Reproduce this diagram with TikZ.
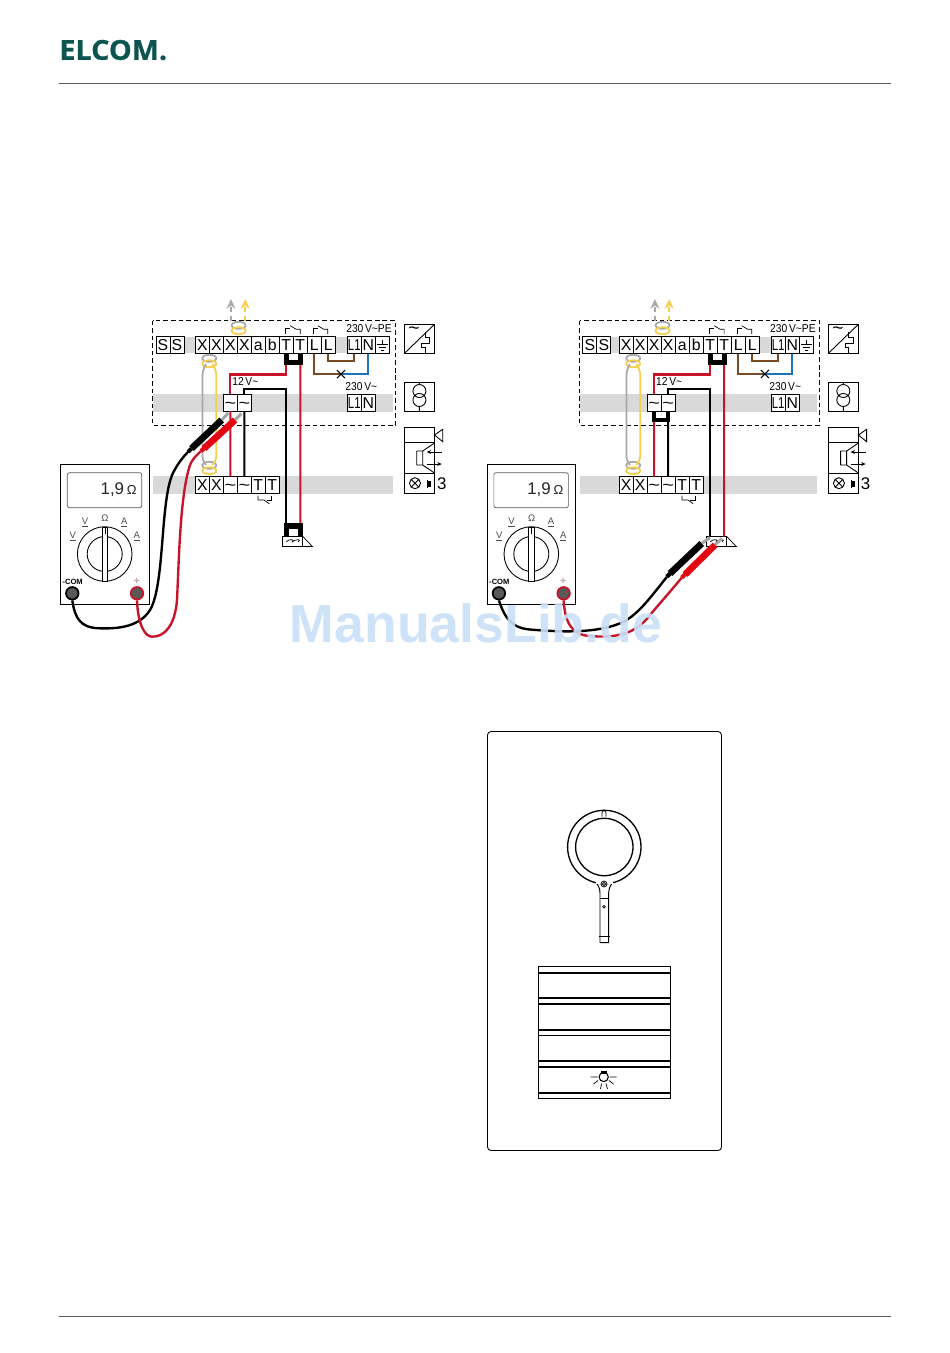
\documentclass[tikz,border=0pt]{standalone}
\usepackage{fontspec}
\usepackage{graphicx}
\setmainfont{Liberation Sans}
\newfontfamily\logofont[BoldFeatures={FakeBold=0.7}]{Open Sans}
\usetikzlibrary{positioning,arrows.meta}
\definecolor{bandgray}{HTML}{D9D9D9}
\definecolor{wirered}{HTML}{C8142A}
\definecolor{proberd}{HTML}{E30613}
\definecolor{wirebrn}{HTML}{7A4A22}
\definecolor{wireblu}{HTML}{1C75BC}
\definecolor{cablegr}{HTML}{A9A9A9}
\definecolor{cableye}{HTML}{F6D04D}
\definecolor{elcomgr}{HTML}{0B5450}
\definecolor{markblu}{HTML}{C9DFF8}
\tikzset{
  term/.style={draw,fill=white,line width=.5pt,inner sep=0pt,outer sep=0pt,minimum width=.28cm,minimum height=.34cm,text height=6.5pt,text depth=0pt,font=\fontsize{9}{9}\selectfont},
  hair/.style={line width=.4pt},
  wire/.style={line width=1.15pt},
  cable/.style={line width=1pt},
  jumper/.style={line width=3pt,line join=miter},
  socket/.style={circle,draw,line width=1pt,fill=black!65,inner sep=0pt,minimum size=.25cm},
  smalltext/.style={inner sep=0pt,font=\fontsize{6.5}{7}\selectfont},
  dialtext/.style={inner sep=0pt,text=black!70,font=\fontsize{5.4}{6}\selectfont},
  lead/.style={line width=1.35pt},
  thickline/.style={line width=.9pt},
  ringline/.style={line width=.75pt}
}
\newcommand{\acsign}{\scalebox{1.25}[1]{\textasciitilde}}
\newcommand{\lone}{\scalebox{.72}[1]{L1}}
% two rings of a twisted cable
\newcommand{\cabletwist}[2]{
\draw [cable,cablegr] (#1,#2-2.7) ellipse (7 and 3.5);
\draw [cable,cableye] (#1,#2+2.7) ellipse (7 and 3.5);
}
\newcommand{\contact}[2]{
\draw [hair] (#1,#2+5.7) -- (#1,#2) -- (#1+4.5,#2);
\draw [hair] (#1+4.5,#2-2.6) -- (#1+10.5,#2+1) -- (#1+14.5,#2+1) -- (#1+14.5,#2+5.7);
}
\newcommand{\probe}[5]{
\draw [line width=1.7pt,black!35] (#2) -- (#3);
\draw [line width=3.8pt,#4] (#1) -- (#2);
\draw [line width=2.4pt,#4] (#1) -- (#5);
}
% one wiring panel, #1 prefix of the names, #2 inset of the bands
\newcommand{\wiringpanel}[2]{
\fill [bandgray] (156+#2,337) rectangle (390,353);
\fill [bandgray] (153.3+#2,394) rectangle (393.3,411.7);
\fill [bandgray] (153.3+#2,476) rectangle (393.3,493.7);
\draw [black,line width=.5pt,dash pattern=on 2.6pt off 1.7pt] (152.7+#2,320.7) rectangle (395.7,425.3);
\node [term] (#1S1) at (163+#2,345) {S};
\node [term,right=0pt of #1S1] (#1S2) {S};
\node [term] (#1X1) at (202.3,345) {X};
\node [term,right=0pt of #1X1] (#1X2) {X};
\node [term,right=0pt of #1X2] (#1X3) {X};
\node [term,right=0pt of #1X3] (#1X4) {X};
\node [term,right=0pt of #1X4] (#1a) {a};
\node [term,right=0pt of #1a] (#1b) {b};
\node [term,right=0pt of #1b] (#1T1) {T};
\node [term,right=0pt of #1T1] (#1T2) {T};
\node [term,right=0pt of #1T2] (#1L1) {L};
\node [term,right=0pt of #1L1] (#1L2) {L};
\node [term] (#1P1) at (354.3,345) {\lone};
\node [term,right=0pt of #1P1] (#1N) {N};
\node [term,right=0pt of #1N] (#1PE) {};
\draw [hair] (#1PE.north) ++(0,3.3) -- ++(0,5) ++(-5.5,0) -- ++(11,0) ++(-9,2.7) -- ++(7,0) ++(-5,3) -- ++(3,0);
\node [term] (#1A1) at (230.3,402.5) {\acsign};
\node [term,right=0pt of #1A1] (#1A2) {\acsign};
\node [term] (#1M1) at (354.3,402.5) {\lone};
\node [term,right=0pt of #1M1] (#1M2) {N};
\node [term] (#1Y1) at (202.3,485) {X};
\node [term,right=0pt of #1Y1] (#1Y2) {X};
\node [term,right=0pt of #1Y2] (#1B1) {\acsign};
\node [term,right=0pt of #1B1] (#1B2) {\acsign};
\node [term,right=0pt of #1B2] (#1Z1) {T};
\node [term,right=0pt of #1Z1] (#1Z2) {T};
\node [smalltext] (#1volt) at (369,329) {\scalebox{.9}[1]{230\,V\textasciitilde PE}};
\node [smalltext] (#1twv) at (361.3,387) {\scalebox{.9}[1]{230\,V\textasciitilde}};
\node [smalltext] (#1lowv) at (245.3,382) {\scalebox{.9}[1]{12\,V\textasciitilde}};
\contact{285.7}{328.3}
\contact{313.3}{328.3}
\draw [hair] (258,495.7) -- (258,500) -- (264,500) -- (269.3,503.7);
\draw [hair] (266.5,500) -- (271.7,500) -- (271.7,495.7);
% cables
\cabletwist{238.6}{328}
\draw [cable,cablegr,densely dashed,-{Stealth[length=5.5pt,width=5pt]}] (231,321) -- (231,299);
\draw [cable,cableye,densely dashed,-{Stealth[length=5.5pt,width=5pt]}] (245.3,321) -- (245.3,299);
\cabletwist{209.3}{361}
\cabletwist{209.3}{468}
\draw [cable,cablegr,rounded corners=3pt] (206,364) -- (202.5,370) -- (202.5,461) -- (206,465);
\draw [cable,cableye,rounded corners=3pt] (212.5,364) -- (216.3,370) -- (216.3,461) -- (212.5,465);
% coil at the bottom
\node [draw,hair,fill=white,inner sep=0pt,minimum width=.4cm,minimum height=.19cm] (#1coil) at (292.3,541.4) {};
\draw [hair] (#1coil.center) ++(-6,0.5) .. controls ++(2,-3) and ++(3,-3) .. ++(6,0) .. controls ++(3,-3) and ++(4,-3) .. ++(6,0);
\draw [hair] (#1coil.north east) -- (312.3,546.4) -- (#1coil.south east);
\coordinate (#1coilA) at (286.3,536.7);
\coordinate (#1coilB) at (300.3,536.7);
% wires
\draw [wire,wirebrn] (#1L2.south) -- ++(0,7.3) -| (#1P1.south);
\coordinate (#1cross) at (341,374);
\draw [wire,wirebrn] (#1L1.south) |- (#1cross);
\draw [wire,wireblu] (#1cross) -| (#1N.south);
\draw [hair,line width=.6pt] (337,370) -- (345,378) (337,378) -- (345,370);
\draw [wire,wirered] (#1T1.south) -- ++(0,21) -| (#1A1.north);
\draw [wire,wirered] (#1T2.south) -- (#1coilB);
\draw [wire,black] (#1A2.north) -- ++(0,-4.7) -| (#1coilA);
\draw [wire,wirered] (#1A1.south) -- (#1B1.north);
\draw [wire,black] (#1A2.south) -- (#1B2.north);
\draw [jumper,black] (#1T1.south) -- ++(0,9.2) -| (#1T2.south);
% side symbols
\draw [black,line width=.5pt,fill=white] (404.5,324.3) rectangle (434.5,353.3);
\draw [black,line width=.5pt] (404.5,353.3) -- (434.5,324.3);
\node [inner sep=0pt,font=\fontsize{11}{11}\selectfont] (#1wave) at (414,331) {\textasciitilde};
\draw [black,line width=.5pt] (425,332) -- (425,337) -- (429.5,337) -- (429.5,343) -- (421.5,343) -- (421.5,347.5) -- (425,347.5) -- (425,353.3);
\draw [black,line width=.5pt] (404.5,382.3) rectangle (434.5,411.3);
\draw [black,line width=.5pt] (419.4,391) circle (6.5) (419.4,400) circle (6.5) (419.4,382.3) -- (419.4,384.5) (419.4,406.5) -- (419.4,411.3);
\draw [black,line width=.5pt] (404.5,427.3) rectangle (434.5,493.3) (404.5,442.9) -- (434.5,442.9) (404.5,473) -- (434.5,473);
\draw [black,line width=.5pt] (434.5,435) -- (442.7,429.3) -- (442.7,441.7) -- cycle;
\draw [black,line width=.5pt] (416.7,451) rectangle (422.7,465) (422.7,451) -- (434.5,443) (422.7,465) -- (434.5,473);
\draw [black,hair,-{Stealth[length=2.5pt,width=2.2pt]}] (441.7,452) -- (426.7,452);
\draw [black,hair,-{Stealth[length=2.5pt,width=2.2pt]}] (426.7,464) -- (441.7,464);
\draw [black,line width=.5pt] (415,483.2) circle (5.5) (411.1,479.3) -- (418.9,487.1) (411.1,487.1) -- (418.9,479.3);
\draw [black,line width=.5pt] (427.6,479.5) -- (427.6,487.5);
\fill [black] (427.6,480.5) rectangle (431,486.5);
\node [inner sep=0pt,font=\fontsize{9.6}{10}\selectfont] (#1three) at (441.7,483.5) {3};
}
% one multimeter, #1 prefix of the names
\newcommand{\multimeter}[1]{
\node [draw,line width=.55pt,fill=white,inner sep=0pt,minimum width=1.77cm,minimum height=2.81cm] (#1case) at (105,534.7) {};
\node [draw,black!65,line width=.4pt,rounded corners=1.2pt,inner sep=0pt,minimum width=1.49cm,minimum height=.7cm] (#1disp) at (104.5,490.2) {};
\node [inner sep=0pt,anchor=east,text=black!85,font=\fontsize{9.6}{10}\selectfont] (#1read) at (137,490) {1,9\,{\fontsize{7.4}{7}\selectfont Ω}};
\draw [black,line width=.5pt] (104.7,554) circle (27.3) (104.7,554) circle (17.5);
\draw [black,line width=.5pt,fill=white] (102.3,527) rectangle (107.7,581.5);
\draw [black,hair] (105,527) -- (105,534);
\node [dialtext] (#1ohm) at (105,518.3) {Ω};
\node [dialtext] (#1vdc) at (85,522.7) {\underline{V}};
\node [dialtext] (#1adc) at (124.3,522.7) {\underline{A}};
\node [dialtext] (#1vac) at (72.7,536.7) {\underline{V}};
\node [dialtext] (#1aac) at (136.7,536.7) {\underline{A}};
\node [inner sep=0pt,font=\bfseries\fontsize{4.3}{5}\selectfont] (#1comtxt) at (72.7,582) {-COM};
\node [inner sep=0pt,text=red!35!black!35,font=\bfseries\fontsize{6}{6}\selectfont] (#1plus) at (136.7,581.5) {+};
\node [socket,draw=black] (#1com) at (72.3,593.3) {};
\node [socket,draw=wirered] (#1pos) at (137,593.3) {};
}
\begin{document}
\begin{tikzpicture}[x=0.02cm,y=-0.02cm]
\useasboundingbox (0,0) rectangle (950,1353);
\fill [white] (0,0) rectangle (950,1353);
\node [inner sep=0pt,anchor=west,text=elcomgr,font=\logofont\bfseries\fontsize{15.6}{16}\selectfont] (logo) at (59,50) {\scalebox{1.05}[1]{ELCOM.}};
\draw [black!65,line width=.55pt] (59,83.5) -- (890.5,83.5);
\draw [black!65,line width=.55pt] (59,1316.5) -- (890.5,1316.5);
% left panel
\wiringpanel{l}{0}
\draw [jumper,black] (286.3,536.7) -- (286.3,526) -- (300.3,526) -- (300.3,536.7);
\multimeter{l}
\coordinate (lbk1) at (188.3,451.7);
\coordinate (lbk2) at (221.7,420);
\coordinate (lbk3) at (228.3,413);
\coordinate (lbk0) at (191.5,448.5);
\coordinate (lrd1) at (201,451);
\coordinate (lrd2) at (235,420);
\coordinate (lrd3) at (241.5,413.5);
\coordinate (lrd0) at (204,448.5);
\draw [lead,black] (lcom.south) .. controls (75,618) and (80,628) .. (100,628.3) .. controls (120,629) and (140,626) .. (150,610) .. controls (165,585) and (160,500) .. (173,473) .. controls (177,465) and (182,458) .. (lbk1);
\draw [lead,wirered] (lpos.south) .. controls (138,625) and (145,636.7) .. (152,636.7) .. controls (165,637) and (175,625) .. (177,600) .. controls (179,560) and (180,495) .. (190,465) .. controls (193,458) and (197,455) .. (lrd1);
\probe{lbk0}{lbk2}{lbk3}{black}{lbk1}
\probe{lrd0}{lrd2}{lrd3}{proberd}{lrd1}
% right panel
\begin{scope}[xshift=8.48cm]
\wiringpanel{r}{3}
\draw [jumper,black,line width=2.2pt] (rA1.south) -- ++(0,9) -| (rA2.south);
\end{scope}
\begin{scope}[xshift=8.534cm]
\multimeter{r}
\end{scope}
\coordinate (rbk1) at (667,576.7);
\coordinate (rbk2) at (701.7,543.5);
\coordinate (rbk3) at (710,537.5);
\coordinate (rbk0) at (670,573.5);
\coordinate (rrd1) at (681.7,577.7);
\coordinate (rrd2) at (715,545);
\coordinate (rrd3) at (722,538.3);
\coordinate (rrd0) at (685,574.5);
\draw [lead,black] (rcom.south) .. controls (503,612) and (508,628) .. (530,629.5) .. controls (560,632) and (600,634) .. (625,621) .. controls (640,612) and (650,598) .. (rbk1);
\draw [lead,wirered] (rpos.south) .. controls (565,620) and (570,635) .. (590,636) .. controls (615,638) and (635,635) .. (650,615) .. controls (660,603) and (670,592) .. (rrd1);
\probe{rbk0}{rbk2}{rbk3}{black}{rbk1}
\probe{rrd0}{rrd2}{rrd3}{proberd}{rrd1}
% station front
\draw [black,line width=.5pt,rounded corners=2pt] (487.5,731.5) rectangle (721.5,1150.5);
\draw [black,line width=.55pt,fill=white] (595,881) .. controls (598,885) and (600,888) .. (600,893) -- (600,942.7) -- (608.7,942.7) -- (608.7,893) .. controls (608.7,888) and (610.7,885) .. (613.7,881);
\draw [black,ringline,fill=white] (604.3,847) circle (36.7);
\draw [black,ringline,fill=white] (604.3,847) circle (28.7);
\fill [white] (596,880) rectangle (613,884);
\draw [black,hair] (600,898.3) -- (608.7,898.3) (599,936.7) -- (609.7,936.7);
\draw [black,hair] (604,906.7) circle (1.3) (604,884) circle (3) (604,884) circle (1.6);
\draw [black,hair] (602,816.5) -- (602,812.5) -- (604,810) -- (606,812.5) -- (606,816.5);
\draw [black,hair] (538.3,966.7) rectangle (670.7,1098.3);
\draw [black,hair] (538.3,1035.3) -- (670.7,1035.3);
\draw [black,thickline] (538.3,972.7) -- (670.7,972.7) (538.3,998) -- (670.7,998) (538.3,1004) -- (670.7,1004) (538.3,1030) -- (670.7,1030) (538.3,1060.7) -- (670.7,1060.7) (538.3,1066.7) -- (670.7,1066.7) (538.3,1092.7) -- (670.7,1092.7);
\draw [black,line width=.6pt] (603.7,1077) circle (4.6);
\fill [black] (600.7,1070.5) rectangle (606.7,1073.5);
\draw [black,hair] (590.5,1077) -- (597.5,1077) (610,1077) -- (616.5,1077) (593.5,1084) -- (598,1080.5) (613.5,1084) -- (609,1080.5) (600.5,1089) -- (601.5,1083.5) (607.5,1089) -- (606,1083.5);
% watermark
\node [inner sep=0pt,opacity=.9,text=markblu,font=\bfseries\fontsize{30.5}{32}\selectfont] (mark) at (476,623) {ManualsLib.de};
\end{tikzpicture}
\end{document}
